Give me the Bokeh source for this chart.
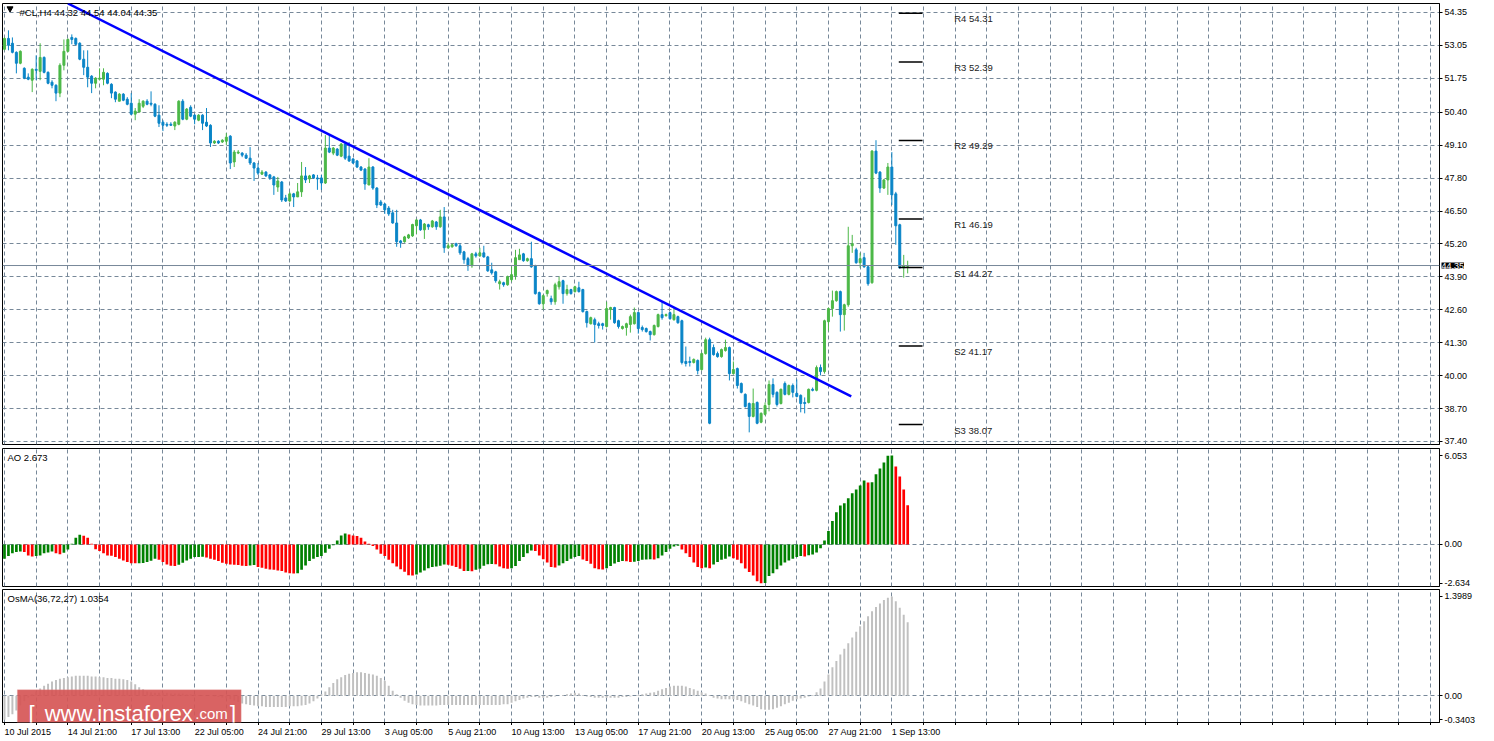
from bokeh.plotting import figure
from bokeh.layouts import column
from bokeh.models import (ColumnDataSource, FixedTicker, PrintfTickFormatter, Range1d,
                          Span, Label, BoxAnnotation)
from bokeh.embed import file_html
from bokeh.resources import INLINE
from bokeh.core.properties import value

# ---------------- data ----------------
symbol = "#CL,H4"

opens = [52.89, 53.32, 53.13, 52.77, 52.34, 52.14, 51.79, 51.67, 52.10, 52.02,
         52.57, 51.98, 51.59, 51.47, 51.16, 52.26, 52.81, 53.36, 53.32, 53.13,
         52.50, 52.18, 51.83, 51.55, 51.71, 51.71, 51.94, 51.51, 51.20, 50.84,
         51.12, 50.92, 50.76, 50.33, 50.41, 50.64, 50.84, 50.76, 50.72, 50.29,
         50.01, 49.93, 49.93, 49.86, 49.93, 50.84, 50.13, 50.60, 50.29, 50.09,
         50.29, 50.01, 49.89, 49.19, 49.26, 49.23, 49.26, 49.46, 48.44, 48.79,
         48.79, 48.71, 48.59, 48.40, 48.20, 47.96, 48.04, 47.93, 47.85, 47.45,
         47.65, 47.02, 46.90, 47.18, 47.06, 47.26, 47.89, 47.77, 47.93, 47.81,
         47.81, 47.61, 48.99, 48.79, 48.95, 48.67, 49.15, 48.67, 48.56, 48.48,
         48.24, 48.16, 47.53, 48.24, 47.41, 46.86, 46.78, 46.62, 46.43, 46.03,
         45.32, 45.29, 45.44, 45.52, 45.92, 46.15, 45.76, 45.96, 45.88, 46.07,
         45.88, 46.27, 45.05, 45.09, 45.21, 45.13, 44.89, 44.62, 44.34, 44.81,
         44.73, 44.85, 44.69, 44.18, 44.10, 43.63, 43.67, 43.59, 43.79, 43.95,
         44.58, 44.81, 44.54, 44.62, 44.34, 43.28, 42.84, 43.24, 43.04, 42.92,
         43.51, 43.75, 43.24, 43.40, 43.32, 43.47, 43.40, 42.53, 42.05, 42.21,
         42.05, 42.05, 41.94, 42.61, 42.69, 42.17, 41.86, 41.90, 42.02, 42.05,
         42.49, 41.90, 41.86, 41.74, 41.62, 41.94, 42.41, 42.37, 42.49, 42.21,
         42.33, 42.17, 40.56, 40.56, 40.52, 40.60, 40.24, 40.87, 41.42, 41.11,
         40.87, 40.75, 40.99, 41.11, 40.08, 40.28, 39.69, 39.26, 38.90, 38.39,
         38.94, 38.16, 38.47, 38.86, 39.65, 39.34, 38.90, 39.69, 39.26, 39.61,
         39.30, 39.22, 38.94, 38.94, 39.46, 39.42, 40.32, 40.16, 42.13, 42.65,
         42.96, 43.32, 42.41, 42.80, 45.13, 44.97, 44.46, 44.66, 44.30, 43.67,
         48.87, 48.04, 47.41, 47.73, 48.24, 47.18, 45.96, 44.26, 44.32]

highs = [53.36, 53.64, 53.36, 52.81, 52.85, 52.18, 51.94, 52.14, 52.65, 53.13,
         52.61, 52.02, 51.67, 51.51, 52.34, 53.28, 53.32, 53.48, 53.36, 53.17,
         52.85, 52.85, 51.87, 51.79, 52.14, 52.14, 51.98, 51.55, 51.23, 51.16,
         51.16, 51.00, 51.16, 50.57, 50.92, 50.88, 50.92, 51.23, 50.76, 50.68,
         50.09, 50.01, 50.01, 50.05, 50.88, 50.92, 50.57, 50.68, 50.33, 50.33,
         50.33, 50.57, 49.93, 49.30, 49.30, 49.34, 49.58, 49.50, 48.91, 48.91,
         48.83, 48.79, 49.03, 48.44, 48.40, 48.12, 48.08, 47.96, 47.89, 47.85,
         47.69, 47.14, 47.26, 47.22, 47.61, 48.44, 48.24, 47.93, 47.96, 47.93,
         47.93, 49.50, 49.50, 49.03, 48.99, 49.19, 49.19, 49.23, 48.59, 48.52,
         48.28, 48.20, 48.59, 48.28, 47.45, 46.94, 46.82, 46.70, 46.55, 46.55,
         45.36, 45.52, 45.60, 46.00, 46.19, 46.19, 46.03, 46.00, 46.15, 46.11,
         46.55, 46.66, 45.25, 45.21, 45.25, 45.21, 44.93, 44.69, 44.85, 44.89,
         45.05, 45.13, 44.73, 44.46, 44.14, 43.79, 43.71, 43.95, 44.30, 44.97,
         45.01, 44.85, 44.66, 45.29, 44.38, 43.32, 43.20, 43.40, 43.16, 43.67,
         43.91, 43.79, 43.59, 43.43, 43.55, 43.71, 43.43, 42.57, 42.33, 42.29,
         42.13, 42.09, 42.92, 42.72, 42.72, 42.21, 41.98, 42.09, 42.41, 42.69,
         42.53, 41.98, 41.90, 41.78, 42.02, 42.45, 42.92, 42.45, 42.53, 42.69,
         42.37, 42.21, 41.15, 40.75, 40.68, 40.64, 40.91, 41.50, 41.50, 41.23,
         40.95, 41.07, 41.42, 41.15, 40.56, 40.32, 39.73, 39.30, 38.94, 39.49,
         38.98, 38.55, 38.94, 39.81, 39.89, 39.38, 39.49, 39.77, 39.65, 39.69,
         39.85, 39.26, 39.14, 39.49, 39.53, 40.40, 40.44, 42.21, 42.69, 43.36,
         43.36, 43.36, 42.84, 45.88, 45.56, 45.05, 44.85, 44.85, 44.34, 48.91,
         49.30, 48.08, 47.77, 48.40, 48.83, 47.26, 46.00, 44.77, 44.54]

lows = [52.85, 52.85, 52.73, 51.94, 52.30, 51.71, 51.67, 51.20, 51.67, 51.67,
        51.94, 51.51, 51.35, 50.84, 51.00, 52.06, 52.77, 53.09, 53.05, 52.46,
        51.87, 51.39, 51.16, 51.35, 51.67, 51.47, 51.51, 50.96, 50.80, 50.84,
        50.84, 50.68, 50.29, 50.09, 50.41, 50.57, 50.68, 50.64, 50.21, 49.82,
        49.66, 49.82, 49.86, 49.70, 49.89, 50.09, 50.09, 50.21, 49.93, 50.05,
        49.70, 49.82, 49.03, 49.15, 49.15, 49.19, 49.11, 48.16, 48.24, 48.75,
        48.63, 48.56, 48.32, 47.69, 47.93, 47.93, 47.85, 47.73, 47.14, 47.26,
        46.86, 46.86, 46.86, 46.66, 47.06, 47.06, 47.61, 47.61, 47.77, 47.34,
        47.34, 47.57, 48.79, 48.71, 48.67, 48.63, 48.52, 48.44, 48.36, 48.20,
        48.08, 47.34, 47.53, 47.34, 46.62, 46.70, 46.39, 46.31, 46.00, 45.09,
        45.05, 45.25, 45.40, 45.48, 45.60, 45.72, 45.40, 45.76, 45.84, 45.76,
        45.84, 44.85, 45.01, 45.05, 45.09, 44.77, 44.42, 44.14, 44.26, 44.66,
        44.69, 44.66, 44.10, 43.99, 43.67, 43.40, 43.51, 43.55, 43.71, 43.79,
        44.58, 44.50, 44.50, 44.26, 43.20, 42.80, 42.61, 43.12, 42.80, 42.80,
        43.40, 42.84, 43.16, 43.20, 43.28, 43.28, 42.49, 41.90, 42.02, 41.31,
        41.86, 41.82, 41.90, 42.21, 42.05, 41.86, 41.82, 41.58, 41.70, 42.02,
        41.66, 41.74, 41.70, 41.39, 41.58, 41.90, 42.21, 42.33, 42.21, 42.17,
        42.05, 40.44, 40.36, 40.36, 40.48, 40.05, 40.20, 40.83, 38.08, 40.79,
        40.71, 40.71, 40.95, 39.81, 40.05, 39.49, 39.30, 38.74, 37.76, 38.35,
        38.08, 38.12, 38.43, 38.59, 39.14, 38.78, 38.86, 39.22, 39.22, 39.14,
        39.14, 38.55, 38.51, 38.90, 39.38, 39.38, 40.01, 40.08, 41.78, 42.33,
        42.92, 41.74, 41.78, 42.72, 44.85, 44.42, 44.26, 44.26, 43.55, 43.63,
        47.96, 47.22, 47.37, 47.14, 46.74, 45.17, 44.22, 43.87, 44.04]

closes = [53.32, 53.05, 52.77, 52.34, 52.81, 51.75, 51.71, 52.10, 52.06, 52.57,
          51.98, 51.55, 51.47, 51.16, 52.26, 52.81, 53.28, 53.28, 53.09, 52.50,
          52.18, 51.79, 51.55, 51.75, 51.75, 51.98, 51.55, 51.16, 50.92, 51.12,
          50.88, 50.72, 50.33, 50.45, 50.76, 50.84, 50.72, 50.72, 50.25, 49.97,
          49.89, 49.89, 49.89, 50.01, 50.84, 50.13, 50.53, 50.25, 50.13, 50.29,
          49.97, 49.86, 49.19, 49.26, 49.19, 49.30, 49.42, 48.40, 48.83, 48.83,
          48.71, 48.59, 48.40, 48.20, 48.00, 48.04, 47.89, 47.81, 47.53, 47.69,
          46.94, 46.90, 47.18, 47.06, 47.26, 47.89, 47.73, 47.89, 47.81, 47.77,
          47.61, 48.99, 48.83, 48.99, 48.71, 49.15, 48.59, 48.48, 48.40, 48.24,
          48.12, 47.57, 48.24, 47.41, 46.74, 46.74, 46.55, 46.39, 46.03, 45.29,
          45.25, 45.48, 45.56, 45.97, 46.15, 45.76, 45.99, 45.88, 46.11, 45.88,
          46.27, 45.05, 45.13, 45.17, 45.13, 44.85, 44.58, 44.34, 44.81, 44.73,
          44.85, 44.69, 44.14, 44.06, 43.75, 43.71, 43.59, 43.91, 43.99, 44.66,
          44.77, 44.54, 44.62, 44.30, 43.24, 42.84, 43.16, 43.36, 42.92, 43.59,
          43.71, 43.24, 43.40, 43.24, 43.51, 43.32, 42.53, 42.09, 42.29, 42.02,
          41.98, 41.98, 42.65, 42.69, 42.09, 41.94, 41.94, 42.05, 42.33, 42.49,
          41.86, 41.82, 41.74, 41.62, 41.98, 42.41, 42.29, 42.41, 42.25, 42.41,
          42.09, 40.52, 40.48, 40.52, 40.64, 40.20, 40.87, 41.42, 38.12, 40.83,
          40.75, 41.03, 41.11, 40.08, 40.24, 39.61, 39.34, 38.78, 38.39, 38.90,
          38.12, 38.51, 38.82, 39.65, 39.26, 38.86, 39.46, 39.26, 39.61, 39.34,
          39.18, 38.90, 38.90, 39.46, 39.42, 40.32, 40.16, 42.17, 42.65, 42.96,
          43.32, 42.41, 42.80, 45.13, 45.21, 44.46, 44.62, 44.30, 43.63, 48.87,
          48.00, 47.41, 47.73, 48.24, 47.14, 45.92, 44.26, 44.34, 44.35]

ao = [-0.97, -0.79, -0.59, -0.52, -0.48, -0.52, -0.75, -0.82, -0.79, -0.75,
      -0.59, -0.54, -0.48, -0.59, -0.66, -0.57, -0.34, 0.05, 0.45, 0.66,
      0.59, 0.45, 0.05, -0.32, -0.45, -0.59, -0.75, -0.77, -0.86, -0.97,
      -1.09, -1.20, -1.27, -1.28, -1.27, -1.26, -1.20, -1.11, -0.97, -1.04,
      -1.20, -1.36, -1.45, -1.47, -1.38, -1.25, -1.09, -0.97, -0.86, -0.85,
      -0.84, -0.88, -0.97, -1.04, -1.13, -1.25, -1.32, -1.36, -1.38, -1.40,
      -1.45, -1.47, -1.43, -1.40, -1.54, -1.59, -1.66, -1.70, -1.72, -1.77,
      -1.81, -1.90, -1.95, -1.97, -1.95, -1.72, -1.43, -1.13, -0.97, -0.86,
      -0.79, -0.57, -0.29, -0.05, 0.27, 0.61, 0.75, 0.68, 0.61, 0.57,
      0.45, 0.20, 0.05, -0.11, -0.34, -0.63, -0.79, -1.04, -1.27, -1.50,
      -1.68, -1.86, -2.09, -2.11, -2.04, -1.90, -1.77, -1.61, -1.54, -1.50,
      -1.45, -1.36, -1.38, -1.45, -1.54, -1.66, -1.81, -1.80, -1.82, -1.72,
      -1.66, -1.45, -1.34, -1.33, -1.35, -1.50, -1.61, -1.66, -1.61, -1.47,
      -1.13, -0.86, -0.59, -0.41, -0.45, -0.75, -1.00, -1.22, -1.54, -1.56,
      -1.43, -1.27, -1.13, -0.97, -0.86, -0.79, -1.02, -1.13, -1.31, -1.61,
      -1.68, -1.70, -1.61, -1.47, -1.29, -1.20, -1.13, -1.15, -1.20, -1.18,
      -1.13, -1.04, -1.02, -1.00, -1.02, -0.93, -0.75, -0.52, -0.29, -0.14,
      -0.09, -0.34, -0.59, -0.86, -1.22, -1.54, -1.61, -1.57, -1.62, -1.36,
      -1.20, -1.04, -0.97, -0.82, -0.93, -1.04, -1.27, -1.63, -1.88, -2.12,
      -2.50, -2.634, -2.62, -2.15, -1.95, -1.68, -1.43, -1.22, -1.09, -0.97,
      -0.86, -0.79, -0.82, -0.73, -0.68, -0.54, -0.25, 0.27, 0.91, 1.59,
      2.20, 2.65, 2.81, 3.15, 3.49, 3.74, 4.01, 4.35, 4.22, 4.24,
      4.78, 5.17, 5.58, 6.03, 6.053, 5.31, 4.63, 3.74, 2.673]

osma = [-0.3403, -0.30, -0.26, -0.21, -0.14, -0.08, -0.03, 0.02, 0.06, 0.10,
        0.14, 0.17, 0.20, 0.22, 0.24, 0.25, 0.26, 0.27, 0.28, 0.28,
        0.28, 0.28, 0.27, 0.27, 0.26, 0.26, 0.25, 0.25, 0.24, 0.24,
        0.23, 0.22, 0.20, 0.16, 0.12, 0.09, 0.06, 0.05, 0.04, 0.04,
        0.04, 0.04, 0.03, 0.03, 0.03, 0.03, 0.02, 0.02, 0.02, 0.01,
        0.01, 0.00, 0.00, -0.01, -0.02, -0.03, -0.04, -0.05, -0.07, -0.09,
        -0.11, -0.12, -0.13, -0.14, -0.15, -0.15, -0.16, -0.16, -0.16, -0.16,
        -0.16, -0.16, -0.15, -0.15, -0.15, -0.14, -0.13, -0.11, -0.08, -0.04,
        0.02, 0.06, 0.12, 0.18, 0.23, 0.26, 0.29, 0.31, 0.32, 0.33,
        0.33, 0.32, 0.31, 0.30, 0.28, 0.25, 0.21, 0.14, 0.07, 0.02,
        -0.03, -0.07, -0.10, -0.12, -0.13, -0.14, -0.14, -0.14, -0.14, -0.14,
        -0.13, -0.13, -0.13, -0.13, -0.13, -0.13, -0.13, -0.13, -0.13, -0.13,
        -0.13, -0.13, -0.13, -0.13, -0.13, -0.13, -0.12, -0.12, -0.10, -0.08,
        -0.06, -0.04, -0.03, -0.02, -0.02, -0.03, -0.03, -0.03, -0.02, -0.01,
        0.00, 0.01, 0.02, 0.03, 0.04, 0.03, 0.01, -0.01, -0.02, -0.03,
        -0.03, -0.03, -0.03, -0.03, -0.03, -0.03, -0.02, -0.02, -0.01, 0.00,
        0.01, 0.02, 0.03, 0.04, 0.05, 0.07, 0.09, 0.11, 0.13, 0.14,
        0.14, 0.14, 0.13, 0.11, 0.09, 0.07, 0.05, 0.03, 0.01, -0.03,
        -0.04, -0.05, -0.05, -0.05, -0.05, -0.06, -0.08, -0.10, -0.12, -0.14,
        -0.16, -0.19, -0.20, -0.20, -0.19, -0.17, -0.15, -0.12, -0.10, -0.07,
        -0.05, -0.04, -0.03, -0.01, 0.01, 0.05, 0.10, 0.20, 0.30, 0.40,
        0.49, 0.58, 0.66, 0.74, 0.82, 0.90, 0.98, 1.05, 1.12, 1.19,
        1.25, 1.30, 1.35, 1.38, 1.3989, 1.33, 1.24, 1.14, 1.0354]

date_labels = ["10 Jul 2015", "14 Jul 21:00", "17 Jul 13:00", "22 Jul 05:00", "24 Jul 21:00",
               "29 Jul 13:00", "3 Aug 05:00", "5 Aug 21:00", "10 Aug 13:00", "13 Aug 05:00",
               "17 Aug 21:00", "20 Aug 13:00", "25 Aug 05:00", "27 Aug 21:00", "1 Sep 13:00"]
bars_per_label = 16

price_ticks = [54.35, 53.05, 51.75, 50.40, 49.10, 47.80, 46.50, 45.20, 43.90,
               42.60, 41.30, 40.00, 38.70, 37.40]
ao_ticks = [6.053, 0.0, -2.634]
ao_tick_labels = ["6.053", "0.00", "-2.634"]
osma_ticks = [1.3989, 0.0, -0.3403]
osma_tick_labels = ["1.3989", "0.00", "-0.3403"]

pivot_names = ["R4", "R3", "R2", "R1", "S1", "S2", "S3"]
pivot_levels = [54.31, 52.39, 49.29, 46.19, 44.27, 41.17, 38.07]

trend_bars = [16.0, 213.75]
trend_prices = [54.70, 39.18]

# ---------------- style ----------------
FONT = "Liberation Sans"
GRID = "#778899"
BULL = "#4cb848"
BEAR = "#0a85c7"
AO_UP = "#008000"
AO_DN = "#ff0000"
OSMA_C = "#c0c0c0"
FW = 1437

n = len(closes)
xs = list(range(n))
last = n - 1
X0, X1 = -0.5, 362.25
xr = Range1d(X0, X1)
grid_x = list(range(0, 361, 8))

main_range = Range1d(37.28, 54.70)
ao_range = Range1d(-2.86, 6.53)
osma_range = Range1d(-0.378, 1.497)


def make(fh, yr, top, bottom):
    p = figure(frame_width=FW, frame_height=fh, x_range=xr, y_range=yr,
               y_axis_location="right", output_backend="svg", toolbar_location=None,
               min_border_left=2, min_border_right=0, min_border_top=top,
               min_border_bottom=bottom, background_fill_color="white",
               border_fill_color="white")
    p.outline_line_color = "black"
    p.outline_line_width = 1
    p.outline_line_alpha = 1
    p.xgrid.ticker = FixedTicker(ticks=grid_x)
    p.grid.grid_line_color = GRID
    p.grid.grid_line_dash = "4 3"
    p.grid.grid_line_width = 1
    ax = p.yaxis[0]
    ax.axis_line_color = "black"
    ax.major_tick_line_color = "black"
    ax.major_tick_out = 3
    ax.major_tick_in = 0
    ax.minor_tick_out = 0
    ax.minor_tick_in = 0
    ax.major_label_standoff = 2
    ax.major_label_text_font = FONT
    ax.major_label_text_font_size = "9px"
    ax.major_label_text_color = "black"
    p.xaxis.visible = False
    return p


def corner_label(p, yr, text):
    p.add_layout(Label(x=X0, y=yr.end, x_offset=5, y_offset=-3, text=text,
                       text_font=FONT, text_font_size="9.5px", text_color="black",
                       text_baseline="top", text_align="left"))


# ---------------- main price panel ----------------
pm = make(441, main_range, 3, 3)
pm.yaxis.ticker = FixedTicker(ticks=price_ticks)
pm.yaxis.formatter = PrintfTickFormatter(format="%.2f")
pm.ygrid.ticker = FixedTicker(ticks=price_ticks)

src = ColumnDataSource(dict(
    x=xs, high=highs, low=lows,
    top=[max(o, c) for o, c in zip(opens, closes)],
    bottom=[min(o, c) for o, c in zip(opens, closes)],
    color=[BULL if c >= o else BEAR for o, c in zip(opens, closes)]))
pm.segment(x0="x", y0="high", x1="x", y1="low", line_color="color", line_width=1, source=src)
pm.vbar(x="x", width=0.5, top="top", bottom="bottom", fill_color="color",
        line_color="color", line_width=1, source=src)

pm.add_layout(Span(location=closes[-1], dimension="width", line_color=GRID, line_width=1))
pm.line(trend_bars, trend_prices, line_color="#0000ff", line_width=2.5)

pm.segment(x0=[last - 2.25] * len(pivot_levels), x1=[last + 3.75] * len(pivot_levels),
           y0=pivot_levels, y1=pivot_levels, line_color="black", line_width=1.5)
pm.text(x=[last + 11.75] * len(pivot_levels), y=pivot_levels,
        text=[f"{nm} {lv:.2f}" for nm, lv in zip(pivot_names, pivot_levels)],
        text_font=value(FONT), text_font_size="9.5px", text_color="#222222",
        text_baseline="top", text_align="left")

pm.scatter([X0 + 1.9], [main_range.end - 0.2], marker="inverted_triangle", size=6,
           color="black")
pm.add_layout(Label(x=X0, y=main_range.end, x_offset=17, y_offset=-3,
                    text=f"{symbol}  {opens[-1]:.2f} {highs[-1]:.2f} {lows[-1]:.2f} {closes[-1]:.2f}",
                    text_font=FONT, text_font_size="9.5px", text_color="black",
                    text_baseline="top", text_align="left"))
# current price tag on the price scale (side panel, so it is not clipped to the frame)
pm.add_layout(Label(x=X1, y=closes[-1], x_offset=2, text=f"{closes[-1]:.2f}",
                    text_font=FONT, text_font_size="9px", text_color="white",
                    background_fill_color="black", text_baseline="middle",
                    text_align="left"), "right")

# ---------------- AO panel ----------------
pa = make(138, ao_range, 1, 1)
pa.yaxis.ticker = FixedTicker(ticks=ao_ticks)
pa.yaxis.major_label_overrides = {t: s for t, s in zip(ao_ticks, ao_tick_labels)}
pa.ygrid.ticker = FixedTicker(ticks=[0.0])
ao_colors = [AO_UP if (i == 0 or ao[i] > ao[i - 1]) else AO_DN for i in range(n)]
pa.vbar(x=xs, width=0.68, top=ao, bottom=0, fill_color=ao_colors, line_color=None)
corner_label(pa, ao_range, f"AO {ao[-1]:.3f}")

# ---------------- OsMA panel ----------------
po = make(133, osma_range, 2, 0)
po.yaxis.ticker = FixedTicker(ticks=osma_ticks)
po.yaxis.major_label_overrides = {t: s for t, s in zip(osma_ticks, osma_tick_labels)}
po.ygrid.ticker = FixedTicker(ticks=[0.0])
po.vbar(x=xs, width=0.5, top=osma, bottom=0, fill_color=OSMA_C, line_color=None)
corner_label(po, osma_range, f"OsMA(36,72,27) {osma[-1]:.4f}")

xa = po.xaxis[0]
xa.visible = True
xa.ticker = FixedTicker(ticks=grid_x)
xa.major_label_overrides = {t: "" for t in grid_x}
xa.major_label_text_font_size = "1px"
xa.major_tick_out = 3
xa.major_tick_in = 0
xa.minor_tick_out = 0
xa.minor_tick_in = 0
xa.major_label_standoff = 0
xa.axis_line_color = "black"

# logo overlay
lb_left, lb_right = X0 + 3.75, X0 + 60.25
po.add_layout(BoxAnnotation(left=lb_left, right=lb_right, top=0.084, bottom=osma_range.start,
                            fill_color="#d65656", fill_alpha=0.92,
                            line_color="#e9a3a3", line_width=1))
ybase = -0.25
po.add_layout(Label(x=lb_left + 2.8, y=ybase, text="[", text_font=FONT, text_font_size="22px",
                    text_color="white", text_baseline="alphabetic"))
po.add_layout(Label(x=lb_left + 6.9, y=ybase, text="www.instaforex", text_font=FONT,
                    text_font_size="22px", text_color="white", text_baseline="alphabetic"))
po.add_layout(Label(x=lb_left + 44.9, y=ybase, text=".com", text_font=FONT,
                    text_font_size="15px", text_color="white", text_baseline="alphabetic"))
po.add_layout(Label(x=lb_left + 53.7, y=ybase, text="]", text_font=FONT, text_font_size="22px",
                    text_color="white", text_baseline="alphabetic"))

# ---------------- date strip (left-aligned time labels under the ticks) ----------------
ps = figure(frame_width=FW, frame_height=13, x_range=xr, y_range=Range1d(0, 1),
            output_backend="svg", toolbar_location=None, min_border_left=2,
            min_border_right=0, min_border_top=0, min_border_bottom=0,
            background_fill_color="white", border_fill_color="white")
ps.axis.visible = False
ps.grid.visible = False
ps.outline_line_color = None
ps.text(x=[k * bars_per_label for k in range(len(date_labels))], y=[0.5] * len(date_labels),
        text=date_labels, text_font=value(FONT), text_font_size="9px", text_color="black",
        text_align="left", text_baseline="middle")

layout = column(pm, pa, po, ps, spacing=0)
open("out.html", "w").write(file_html(layout, INLINE))
